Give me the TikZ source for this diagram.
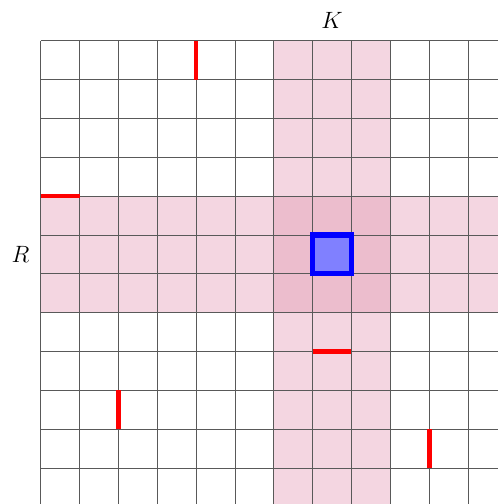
\documentclass[tikz,border=0pt]{standalone}
\usepackage{tikz}
\definecolor{bandpink}{RGB}{244,214,225}
\definecolor{crosspink}{RGB}{236,189,205}
\definecolor{cellblue}{RGB}{128,128,255}

\begin{document}
\begin{tikzpicture}[
  font=\fontsize{19}{22}\selectfont,
  gridline/.style={draw=black!65,line width=0.55pt},
  band/.style={fill=bandpink,draw=none},
  cross/.style={fill=crosspink,draw=none},
  wall/.style={draw=red,line width=3.6pt},
  target/.style={draw=blue,fill=cellblue,line width=4pt}
]
\useasboundingbox (-1.048,1.048) rectangle (11.77,-11.93);
\clip (-1.048,1.048) rectangle (11.77,-11.93);
% highlighted column K and row R
\fill[band] (6,0) rectangle (9,-12.5);
\fill[band] (0,-4) rectangle (12.5,-7);
\fill[cross] (6,-4) rectangle (9,-7);
% the grid
\draw[gridline] (0,0) grid (12.5,-12.5);
% red walls
\draw[wall] (4,0) -- (4,-1);
\draw[wall] (0,-4) -- (1,-4);
\draw[wall] (7,-8) -- (8,-8);
\draw[wall] (2,-9) -- (2,-10);
\draw[wall] (10,-10) -- (10,-11);
% the selected cell
\draw[target] (7,-5) rectangle (8,-6);
% labels
\node (klabel) at (7.5,0.52) {$K$};
\node (rlabel) at (-0.52,-5.5) {$R$};
\end{tikzpicture}
\end{document}
